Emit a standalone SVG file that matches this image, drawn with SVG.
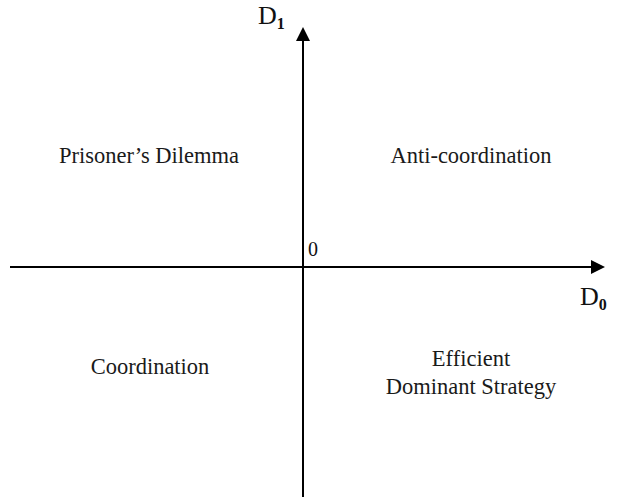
<svg xmlns="http://www.w3.org/2000/svg" width="636" height="500" viewBox="0 0 636 500">
<style>
.t{font-family:"Liberation Serif","Times New Roman",serif;fill:#1a1a1a;font-size:22.5px;text-anchor:middle}
.ax{font-family:"Liberation Serif","Times New Roman",serif;fill:#111;font-size:26px}
.sub{font-size:16px;font-weight:bold}
.ln{stroke:#000;stroke-width:2;fill:none}
</style>
<defs>
<marker id="ah" markerWidth="14" markerHeight="14" refX="0" refY="0" viewBox="-1 -7 14 14" markerUnits="userSpaceOnUse" orient="auto">
<path d="M-1,-7 L13,0 L-1,7 Z" fill="#000"/>
</marker>
</defs>
<rect width="636" height="500" fill="#fff"/>
<g id="connectors">
<line class="ln" x1="303" y1="497" x2="303" y2="40" marker-end="url(#ah)"/>
<line class="ln" x1="10" y1="267" x2="592" y2="267" marker-end="url(#ah)"/>
</g>
<g id="axis-d1"><text class="ax" x="258" y="24">D<tspan class="sub" dy="5">1</tspan></text></g>
<g id="axis-d0"><text class="ax" x="580" y="305">D<tspan class="sub" dy="5">0</tspan></text></g>
<g id="origin"><text class="ax" x="308" y="256" style="font-size:20px">0</text></g>
<g id="pd"><text class="t" x="149" y="163">Prisoner’s Dilemma</text></g>
<g id="anti"><text class="t" x="471" y="163">Anti-coordination</text></g>
<g id="coord"><text class="t" x="150" y="374">Coordination</text></g>
<g id="eds"><text class="t" x="471" y="366">Efficient</text><text class="t" x="471" y="394">Dominant Strategy</text></g>
</svg>
